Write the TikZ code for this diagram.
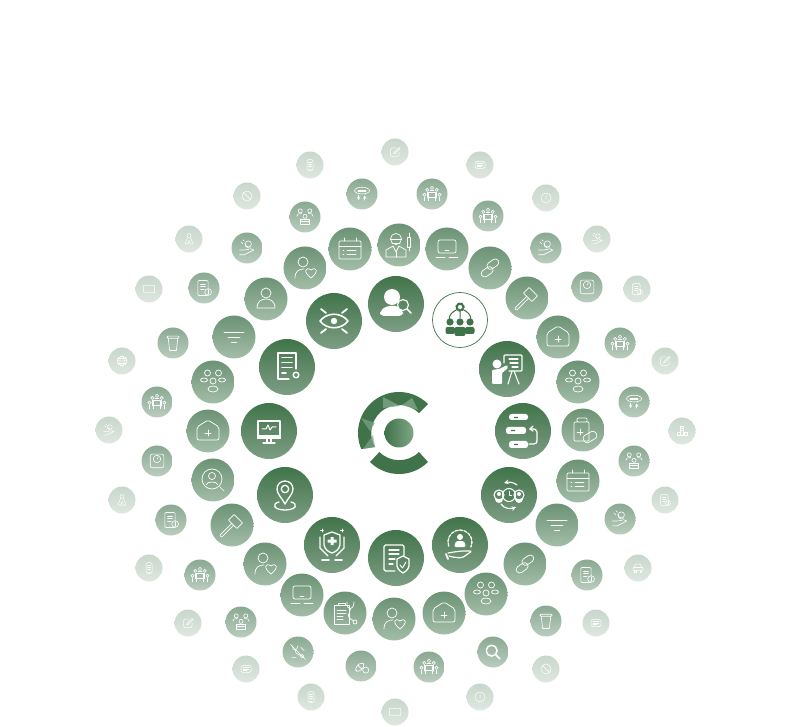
\documentclass[tikz,border=0pt]{standalone}
\usepackage{tikz}

\definecolor{logogreen}{HTML}{40734A}
\definecolor{logolight}{HTML}{7EA688}
\definecolor{darktop}{HTML}{41744A}
\definecolor{darkbot}{HTML}{7D9E84}
\definecolor{midtop}{HTML}{6C9375}
\definecolor{midbot}{HTML}{A3BDA8}
\definecolor{thirdtop}{HTML}{8AA992}
\definecolor{thirdbot}{HTML}{BACDBE}
\definecolor{fourthtop}{HTML}{C8D7CB}
\definecolor{fourthbot}{HTML}{DEE7E0}

\tikzset{
  disc/.style={circle,inner sep=0pt},
  bigdisc/.style={disc,minimum size=56pt,top color=darktop,bottom color=darkbot},
  middisc/.style={disc,minimum size=43pt,top color=midtop,bottom color=midbot},
  thirddisc/.style={disc,minimum size=31pt,top color=thirdtop,bottom color=thirdbot},
  fourthdisc/.style={disc,minimum size=27pt,top color=fourthtop,bottom color=fourthbot},
  bigicon/.style={white,line width=1.3pt,line cap=round,line join=round},
  midicon/.style={white,line width=.7pt,line cap=round,line join=round},
  thirdicon/.style={white,line width=.6pt,scale=.68,line cap=round,line join=round},
  fourthicon/.style={white,line width=.5pt,scale=.5,line cap=round,line join=round},
  % thin line icons
  pics/calendar/.style={code={
    \draw[rounded corners=1pt] (-11,-10) rectangle (11,8);
    \draw (-11,3) -- (11,3) (-6,8) -- (-6,11) (6,8) -- (6,11);
    \draw (-7,-1) -- (-6,-1) (-3,-1) -- (6,-1) (-7,-5) -- (-6,-5) (-3,-5) -- (6,-5);
  }},
  pics/laptop/.style={code={
    \draw[rounded corners=2pt] (-9,-4) rectangle (9,9);
    \draw (-2,-1) -- (2,-1) (-11,-8) -- (-2,-8) (2,-8) -- (11,-8);
  }},
  pics/linked/.style={code={
    \draw[rotate=35,rounded corners=3.5pt] (-11,-5) rectangle (2,2) (-2,-2) rectangle (11,5);
  }},
  pics/hammer/.style={code={
    \draw[rotate=45,rounded corners=.5pt] (-16,-1.3) rectangle (1,1.3) (1,-6) rectangle (9,6);
  }},
  pics/home/.style={code={
    \draw[rounded corners=2pt] (-11,-9) -- (-11,4) -- (0,11) -- (11,4) -- (11,-9) -- cycle;
    \draw (-3,-2) -- (3,-2) (0,-5) -- (0,1);
  }},
  pics/group/.style={code={
    \draw (-5.5,9) circle (3) (5.5,9) circle (3) (0,1) circle (3);
    \draw (-9,2) ellipse (3.5 and 2) (9,2) ellipse (3.5 and 2) (0,-7) ellipse (5 and 3);
  }},
  pics/funnel/.style={code={
    \draw (-10,5) -- (10,5) (-6,0) -- (6,0) (-2.5,-5) -- (2.5,-5);
  }},
  pics/bottle/.style={code={
    \draw[rounded corners=1pt] (-6,8) rectangle (4,12) (-9,-11) rectangle (6,8);
    \draw (-6,-2) -- (0,-2) (-3,-5) -- (-3,1);
    \draw[rotate around={30:(7,-7)},rounded corners=3pt] (0,-11) rectangle (14,-3);
  }},
  pics/lens/.style={code={
    \draw (-1,1) circle (10) (-1,4) circle (3.5);
    \draw (-7,-5) .. controls (-6,-1) and (4,-1) .. (5,-5);
    \draw (6.5,-6.5) -- (11,-11);
  }},
  pics/personheart/.style={code={
    \draw (-2,6) circle (5);
    \draw (-10,-10) .. controls (-10,-3) and (-6,-1) .. (-1,-1);
    \draw (6,-10) .. controls (-2,-4) and (0,2) .. (6,-2) .. controls (12,2) and (14,-4) .. (6,-10);
  }},
  pics/person/.style={code={
    \draw (0,6) circle (5);
    \draw (-9,-9) .. controls (-9,-2) and (-4,0) .. (0,0) .. controls (4,0) and (9,-2) .. (9,-9) -- cycle;
  }},
  pics/doctor/.style={code={
    \draw (-3,6) circle (5.5);
    \draw (-8.5,6) -- (2.5,6) (-7,2) -- (1,2);
    \draw (-13,-12) -- (-13,-5) -- (-6,-1) -- (-3,-7) -- (0,-1) -- (7,-5) -- (7,-12) -- cycle;
    \draw (-3,-7) -- (-3,-12);
    \draw (10,12) -- (10,8) (8.5,8) rectangle (11.5,-2) (10,-2) -- (10,-6);
  }},
  pics/docsteth/.style={code={
    \draw (-11,-11) rectangle (4,8) (-7,8) rectangle (0,10);
    \draw (-8,3) -- (1,3) (-8,0) -- (1,0) (-8,-3) -- (-2,-3) (-8,-6) -- (-2,-6);
    \draw (2,11) .. controls (1,2) and (9,2) .. (9,11);
    \draw (5.5,4) .. controls (5,-1) and (-1,-3) .. (9,-8);
    \draw (10,-9) circle (2);
  }},
  pics/meeting/.style={code={
    \foreach \hx/\hy in {0/9,-7/6,7/6,-11/-1,11/-1}
      \draw (\hx,\hy) circle (2.3);
    \draw (-7,3) -- (-7,-6) (7,3) -- (7,-6) (-3,5) -- (3,5);
    \draw (-5,2) rectangle (5,-5);
    \draw (-11,-4) -- (-11,-10) (11,-4) -- (11,-10) (-5,-10) -- (-5,-6) (5,-10) -- (5,-6);
  }},
  pics/carehand/.style={code={
    \draw (2,6) circle (4.5);
    \draw (-3,7) arc (170:290:6);
    \draw (-11,-3) -- (-5,-3) .. controls (-2,-3) and (0,-2) .. (3,-2);
    \draw (-11,-10) -- (-4,-10) -- (10,-3) -- (5,-1);
    \draw (-6,6) -- (-9,9) (-4,10) -- (-6,12);
  }},
  pics/weigh/.style={code={
    \draw[rounded corners=2pt] (-10,-10) rectangle (10,10);
    \draw (0,3) circle (5.5);
    \draw (0,3) -- (2,6);
  }},
  pics/chatbub/.style={code={
    \draw (0,5) ellipse (11 and 5);
    \draw (-6,6) -- (6,6) (-6,4) -- (6,4);
    \draw[->,>=stealth] (-5,-2) -- (-5,-9);
    \draw[<-,>=stealth] (4,-2) -- (4,-9);
  }},
  pics/threepeople/.style={code={
    \draw (-7,9) circle (3) (7,9) circle (3) (0,1) circle (3);
    \draw (-12,1) .. controls (-12,5) and (-9,5) .. (-5,5) (12,1) .. controls (12,5) and (9,5) .. (5,5);
    \draw (-7,-11) rectangle (7,-3);
    \draw (-7,-7) -- (7,-7);
  }},
  pics/invoice/.style={code={
    \draw[rounded corners=1pt] (-9,-11) rectangle (6,11);
    \draw (-5,6) -- (2,6) (-5,2) -- (2,2) (-5,-2) -- (0,-2);
    \draw (6,-6) circle (5);
    \draw (6,-9) -- (6,-3);
  }},
  pics/cup/.style={code={
    \draw (-7,7) -- (-5,-11) -- (5,-11) -- (7,7);
    \draw[rounded corners=1pt] (-9,7) rectangle (9,10);
  }},
  pics/magnifier/.style={code={
    \draw[line width=1.5pt] (-2,2) circle (8) (4,-4) -- (10,-10);
  }},
  pics/capsule/.style={code={
    \draw[rotate=45,rounded corners=3.5pt] (-10,-4) rectangle (5,4);
    \draw[rotate=45] (-2.5,-4) -- (-2.5,4);
    \draw (7,-6) circle (4.5);
  }},
  pics/nosteth/.style={code={
    \draw (-11,11) -- (11,-11);
    \draw (-8,9) .. controls (-9,1) and (-1,1) .. (0,9);
    \draw (-4,3) .. controls (-4,-5) and (3,-3) .. (4,-6);
    \draw (6,-6) circle (2.5);
    \draw (-9,-8) -- (-3,-8) (4,7) -- (9,2);
  }},
  pics/memo/.style={code={
    \draw[rounded corners=1.5pt] (8,0) -- (8,-9) -- (-9,-9) -- (-9,8) -- (1,8);
    \draw (-2,-1) -- (8,9) -- (10,7) -- (0,-3) -- (-3,-4) -- cycle;
  }},
  pics/chatbox/.style={code={
    \draw[rounded corners=1.5pt] (-10,-7) rectangle (10,7);
    \draw (-6,3) -- (6,3) (-6,0) -- (6,0) (-6,-3) -- (2,-3);
  }},
  pics/info/.style={code={
    \draw (0,0) circle (10) (0,6) -- (0,-2) (0,-5.5) -- (0,-5.6);
  }},
  pics/bars/.style={code={
    \draw (-10,-9) rectangle (-4,-2) (-3,-9) rectangle (3,9) (4,-9) rectangle (10,-2);
    \draw (-1,5) -- (1,5) (-1,1) -- (1,1);
  }},
  pics/car/.style={code={
    \draw[rounded corners=1pt] (-10,-5) -- (-10,1) -- (-7,2) -- (-5,8) -- (5,8) -- (7,2) -- (10,1) -- (10,-5) -- cycle;
    \draw (-7,2) -- (7,2) (-7,-5) -- (-7,-8) -- (-4,-8) -- (-4,-5) (7,-5) -- (7,-8) -- (4,-8) -- (4,-5);
  }},
  pics/forbid/.style={code={
    \draw (0,0) circle (10) (-7,7) -- (7,-7);
  }},
  pics/flagmap/.style={code={
    \draw (-11,-7) -- (-11,7) .. controls (-5,10) and (5,4) .. (11,7) -- (11,-7) .. controls (5,-10) and (-5,-4) .. (-11,-7) -- cycle;
  }},
  pics/handset/.style={code={
    \draw[rounded corners=2pt] (-6,-11) rectangle (6,11);
    \draw (-3,6) -- (3,6) (-3,2) -- (3,2) (-3,-2) -- (3,-2) (-1,-8) -- (1,-8);
  }},
  pics/globe/.style={code={
    \draw (0,0) circle (10) (0,0) ellipse (4.5 and 10) (-10,0) -- (10,0);
    \draw (-8,5) -- (8,5) (-8,-5) -- (8,-5);
  }},
  pics/figure/.style={code={
    \draw (0,7) circle (4);
    \draw (-3,3) -- (-8,-10) -- (8,-10) -- (3,3);
    \draw (-3,-10) -- (0,-3) -- (3,-10);
  }},
  % bold icons of the inner ring
  pics/personsearch/.style={code={
    \fill (-4,7) circle (8);
    \fill[rounded corners=4pt] (-16,-12) -- (-16,-7) -- (-10,-2) -- (3,-2) -- (7,-7) -- (7,-12) -- cycle;
    \draw[fill=darkbot!45!darktop,line width=1.1pt] (7,-1) circle (5.5);
    \draw[line width=1.5pt] (11,-5) -- (15,-9);
  }},
  pics/team/.style={code={
    \draw[line width=2.5pt,dash pattern=on 1.5pt off 1.5pt] (0,13) circle (3.5);
    \draw[line width=1pt] (-11,0) .. controls (-11,6) and (-7,8) .. (-4,10) (11,0) .. controls (11,6) and (7,8) .. (4,10) (0,8) -- (0,2);
    \fill (-10,-2) circle (3.6) (0,-2) circle (3.6) (10,-2) circle (3.6);
    \fill[rounded corners=2pt] (-14.5,-14) rectangle (-5,-7) (5,-14) rectangle (14.5,-7);
    \fill[rounded corners=2pt] (-5.5,-16) rectangle (5.5,-7);
  }},
  pics/presenter/.style={code={
    \fill (-10,5) circle (4.5);
    \fill[rounded corners=1pt] (-15,-15) -- (-15,-1) -- (-8,0) -- (0,4) -- (1,1) -- (-5,-4) -- (-5,-15) -- cycle;
    \draw[line width=1.4pt,rounded corners=1pt] (-3,6) -- (-3,14) -- (15,14) -- (15,-2) -- (2,-2);
    \draw[line width=1.1pt] (2,10) -- (11,10) (3,6) -- (11,6) (5,2) -- (11,2);
    \draw[line width=1.1pt] (5,-2) -- (1,-15) (7,-2) -- (12,-15);
  }},
  pics/serverloop/.style={code={
    \fill[rounded corners=2.5pt] (-14,11) rectangle (5,17) (-17,-3) rectangle (3,4) (-14,-17) rectangle (5,-10);
    \fill[darktop] (-9,12.8) rectangle (-5,14.2) (-12,-0.2) rectangle (-8,1.2) (-9,-14.2) rectangle (-5,-12.8);
    \draw[line width=1.3pt] (6,-13) -- (11,-13) .. controls (14,-13) and (14,-11) .. (14,-9) -- (14,-1) .. controls (14,2) and (12,2) .. (7,2);
    \draw[line width=1.3pt] (10,5) -- (7,2) -- (10,0);
  }},
  pics/clockpeople/.style={code={
    \draw[line width=1.1pt,fill=darktop!70!darkbot] (0,0) circle (6.5);
    \draw[line width=1pt] (0,3.5) -- (0,0) -- (2.5,0);
    \draw[line width=1.1pt] (-10,0) circle (5) (10,0) circle (5);
    \fill (-10,1) circle (2) (10,1) circle (2) (-14,-4) arc (180:360:4) (6,-4) arc (180:360:4);
    \draw[line width=1.1pt,->,>=stealth] (8,10) .. controls (5,13) and (-1,13) .. (-5,12);
    \draw[line width=1.1pt,->,>=stealth] (-8,-9) .. controls (-5,-14) and (2,-14) .. (7,-12);
  }},
  pics/handperson/.style={code={
    \draw[line width=1.3pt,dash pattern=on 3pt off 1.5pt] (-11.3,-1.1) arc (200:-25:12);
    \fill (0,8) circle (3);
    \fill[rounded corners=1.5pt] (-6,-2) -- (-4,4) -- (4,4) -- (6,-2) -- cycle;
    \draw[line width=1.2pt,rounded corners=2pt] (-12,-8) -- (-6,-7) -- (1,-6) -- (12,-6) -- (2,-13) -- (-8,-12) -- (-11,-11);
    \draw[line width=1.8pt] (-14,-9) -- (-12,-14);
  }},
  pics/docshield/.style={code={
    \draw[rounded corners=1.5pt] (-1,-13) -- (-12,-13) -- (-12,13) -- (8,13) -- (8,-1);
    \draw (-7,8) -- (3,8) (-7,4) -- (3,4) (-7,-1) -- (-1,-1) (-7,-6) -- (-3,-6);
    \draw[fill=darktop!55!darkbot] (1,-1) -- (7,2) -- (13,-1) -- (13,-8) .. controls (12,-12) and (9,-14) .. (7,-15) .. controls (5,-14) and (2,-12) .. (1,-8) -- cycle;
    \draw[line width=1pt] (4,-7) -- (6.5,-10) -- (10,-4);
  }},
  pics/shieldhands/.style={code={
    \draw (-8,10) -- (0,13) -- (8,10) -- (8,0) .. controls (7,-5) and (3,-7) .. (0,-8) .. controls (-3,-7) and (-7,-5) .. (-8,0) -- cycle;
    \fill (-1.5,0) rectangle (1.5,8) (-4.5,2.5) rectangle (4.5,5.5);
    \draw (-12,8) -- (-12,-3) -- (-4,-11) (12,8) -- (12,-3) -- (4,-11);
    \draw[line width=1.8pt] (-10,-15) -- (-3,-15) (3,-15) -- (10,-15);
    \draw[line width=.8pt] (-10,13) -- (-10,16) (-11.5,14.5) -- (-8.5,14.5) (10,13) -- (10,16) (8.5,14.5) -- (11.5,14.5);
  }},
  pics/mappin/.style={code={
    \draw (0,-9) .. controls (-3,-3) and (-8,1) .. (-8,6) .. controls (-8,11) and (-4,14) .. (0,14) .. controls (4,14) and (8,11) .. (8,6) .. controls (8,1) and (3,-3) .. (0,-9) -- cycle;
    \draw (0,6) circle (3.7);
    \draw (-6,-7) .. controls (-14,-9) and (-11,-15) .. (0,-15) .. controls (11,-15) and (14,-9) .. (6,-7);
  }},
  pics/monitor/.style={code={
    \draw[line width=1.6pt] (-11,-5) rectangle (11,10);
    \fill (-12,-8) rectangle (12,-5);
    \draw[line width=1pt] (-7,2) -- (-3,2) -- (-1,6) -- (1,1) -- (3,4) -- (7,4);
    \draw (-2,-7) -- (-2,-11) (2,-7) -- (2,-11) (-6,-12) -- (6,-12);
  }},
  pics/listgear/.style={code={
    \draw (2,-12) -- (-9,-12) -- (-9,14) -- (9,14) -- (9,-2);
    \draw[line width=1.7pt] (-5,9.5) -- (5,9.5) (-5,4.5) -- (5,4.5) (-5,-.5) -- (5,-.5) (-5,-6) -- (-1,-6);
    \draw[line width=1.5pt,dash pattern=on 1pt off .6pt] (9,-8) circle (2.8);
  }},
  pics/eyeball/.style={code={
    \draw[line width=1.6pt] (-14,0) .. controls (-7,9) and (7,9) .. (14,0) .. controls (7,-9) and (-7,-9) .. (-14,0) -- cycle;
    \fill (0,0) circle (3.2);
    \draw[line width=1.8pt] (-13,12) -- (-8,8) (13,12) -- (8,8) (-13,-12) -- (-8,-8) (13,-12) -- (8,-8);
  }}
}

\begin{document}
\begin{tikzpicture}[x=1pt,y=1pt]
  \useasboundingbox (0,0) rectangle (792,726);

  % outer ring
  \foreach \x/\y/\ic [count=\n] in {395/152/memo,480/165/chatbox,546/198/info,597/239/carehand,
    637/289/invoice,665/361/memo,682/431/bars,665/500/invoice,638/568/car,596/623/chatbox,
    546/669/forbid,480/697/info,395/712/flagmap,311/697/handset,246/669/chatbox,188/623/memo,
    149/568/handset,122/500/figure,109/430/carehand,122/361/globe,149/289/flagmap,189/239/figure,
    247/196/forbid,310/165/handset}
  {
    \node[fourthdisc] (outer\n) at (\x,726-\y) {};
    \pic[fourthicon] at (outer\n) {\ic};
  }

  % third ring
  \foreach \x/\y/\ic [count=\n] in {432/194/meeting,488/216/meeting,546/248/carehand,587/287/weigh,
    620/343/meeting,634/402/chatbub,634/461/threepeople,620/519/carehand,587/575/invoice,546/621/cup,
    493/652/magnifier,429/667/meeting,361/666/capsule,298/652/nosteth,241/622/threepeople,200/575/meeting,
    171/520/invoice,157/461/weigh,157/402/meeting,173/343/cup,204/288/invoice,247/248/carehand,
    305/217/threepeople,362/194/chatbub}
  {
    \node[thirddisc] (third\n) at (\x,726-\y) {};
    \pic[thirdicon] at (third\n) {\ic};
  }

  % second ring
  \foreach \x/\y/\ic [count=\n] in {399/245/doctor,447/249/laptop,490/268/linked,527/298/hammer,
    558/337/home,578/382/group,583/430/bottle,578/481/calendar,557/525/funnel,525/564/linked,
    486/594/group,444/613/home,394/619/personheart,345/613/docsteth,302/595/laptop,265/564/personheart,
    232/525/hammer,213/480/lens,208/431/home,213/382/group,234/337/funnel,266/299/person,
    305/268/personheart,350/249/calendar}
  {
    \node[middisc] (second\n) at (\x,726-\y) {};
    \pic[midicon] at (second\n) {\ic};
  }

  % inner ring
  \foreach \x/\y/\ic [count=\n] in {396/304/personsearch,507/369/presenter,523/431/serverloop,
    509/495/clockpeople,460/545/handperson,396/558/docshield,332/545/shieldhands,285/495/mappin,
    269/431/monitor,287/367/listgear,334/321/eyeball}
  {
    \node[bigdisc] (inner\n) at (\x,726-\y) {};
    \pic[bigicon] at (inner\n) {\ic};
  }

  % the one white disc
  \node[disc,minimum size=55pt,draw=logogreen,line width=.7pt,fill=white] (start) at (460,726-320) {};
  \pic[logogreen,line width=1.2pt,line cap=round] at (start) {team};

  % logo
  \fill[logogreen] (399,293) ++(45:41) arc (45:203:41) -- (375,279) arc (210:45:28) -- cycle;
  \fill[logogreen] (399,293) ++(225:41) arc (225:315:41) -- ++(-9,10) arc (315:225:28) -- cycle;
  \fill[logolight,opacity=.8] (383,726-397) -- (400,726-406) -- (383,726-408) -- cycle;
  \fill[logolight,opacity=.8] (412,726-398) -- (418,726-410) -- (402,726-405) -- cycle;
  \fill[logolight,opacity=.7] (361,726-418) -- (375,726-423) -- (370,726-431) -- cycle;
  \fill[logolight,opacity=.7] (363,726-449) -- (373,726-435) -- (375,726-447) -- cycle;
  \node[circle,inner sep=0pt,minimum size=29pt,left color=logogreen,right color=logolight] (core) at (399,726-433) {};
\end{tikzpicture}
\end{document}
